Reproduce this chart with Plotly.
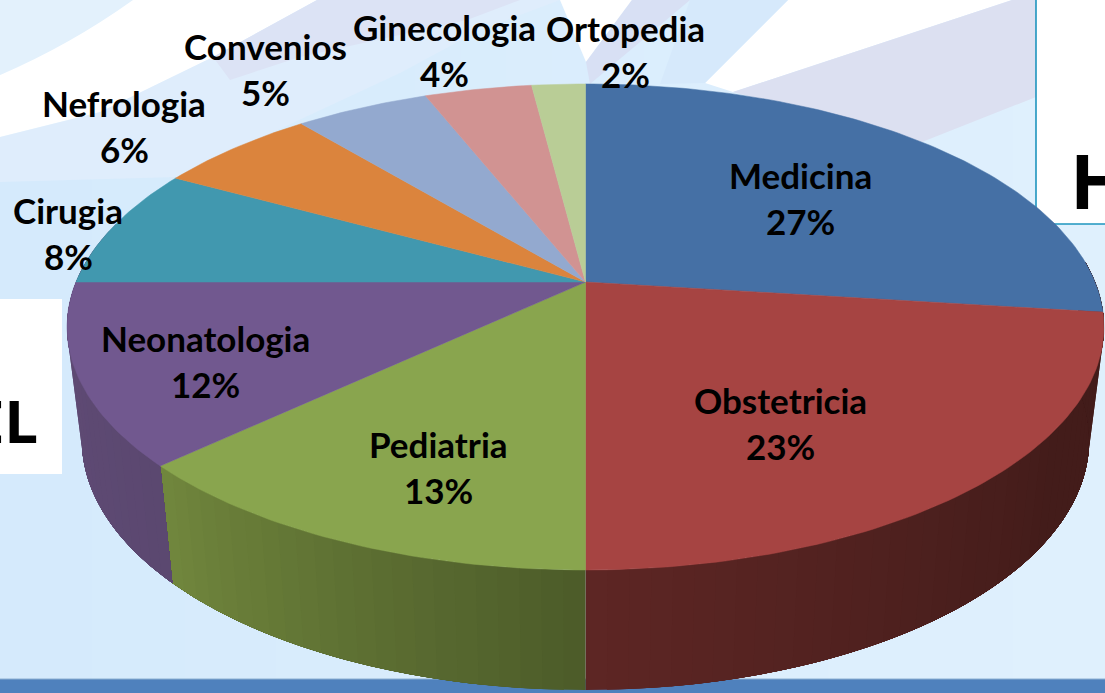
import math
import plotly.graph_objects as go

# ---- data ----
categories = ["Medicina", "Obstetricia", "Pediatria", "Neonatologia", "Cirugia",
              "Nefrologia", "Convenios", "Ginecologia", "Ortopedia"]
shares = [27, 23, 13, 12, 8, 6, 5, 4, 2]

# ---- styles and layout, kept apart from the data ----
top_colors = ["#4570A5", "#A64442", "#89A54E", "#71588F", "#4198AF",
              "#DB843D", "#93A9CF", "#D19392", "#B9CD96"]
label_x = [800, 780, 438, 205, 68, 124, 265, 444, 625]
label_y = [174.5, 399.5, 443.5, 337.5, 209.5, 102.5, 45.5, 26.5, 27.5]
pct_dy = 46
FONT = "Lato"
FS = 35

W, H = 1105, 693
CX = 585.5
K = 0.185
TOP = dict(y0=282, a=234.7, b=509.5)
BOT = dict(y0=393.7, a=241.5, b=495)


def project(deg, plane):
    t = math.radians(deg)
    x, y = math.sin(t), math.cos(t)
    d = 1 + K * y
    return CX + plane["b"] * x / d, plane["y0"] - plane["a"] * y / d


def lerp_stops(deg, stops):
    for (d0, c0), (d1, c1) in zip(stops, stops[1:]):
        if d0 <= deg <= d1:
            f = (deg - d0) / (d1 - d0)
            return "rgb(%d,%d,%d)" % tuple(round(a + (b - a) * f) for a, b in zip(c0, c1))
    return "rgb(%d,%d,%d)" % stops[-1][1]


ends = []
acc = 0
for s in shares:
    acc += s
    ends.append(acc * 3.6)

wall_stops = {
    1: [(85, (66, 28, 26)), (125, (67, 28, 26)), (180, (93, 38, 36))],
    2: [(180, (76, 91, 41)), (226.8, (113, 135, 61))],
    3: [(226.8, (91, 72, 112)), (285, (98, 76, 120))],
}
# painted outward from the front seam so each strip overlaps the previous one
wall_span = {1: (ends[1], 85), 2: (ends[1], ends[2]), 3: (285, ends[2])}

fig = go.Figure()

for idx, (a0, a1) in wall_span.items():
    n = max(8, int(abs(a1 - a0) / 2))
    for i in range(n):
        d0 = a0 + (a1 - a0) * i / n
        mid = a0 + (a1 - a0) * (i + 0.5) / n
        col = lerp_stops(mid, wall_stops[idx])
        m = 30
        upper = [project(d0 + (a1 - d0) * j / m, TOP) for j in range(m + 1)]
        lower = [project(a1 + (d0 - a1) * j / m, BOT) for j in range(m + 1)]
        p = upper + lower + [upper[0]]
        fig.add_trace(go.Scatter(x=[q[0] for q in p], y=[q[1] for q in p], mode="lines",
                                 fill="toself", fillcolor=col, line=dict(color=col, width=0),
                                 hoverinfo="skip", showlegend=False))

# top face
start = 0
for name, end, col in zip(categories, ends, top_colors):
    n = max(6, int((end - start) / 1))
    arc = [project(start + (end - start) * i / n, TOP) for i in range(n + 1)]
    xs = [CX] + [q[0] for q in arc] + [CX]
    ys = [TOP["y0"]] + [q[1] for q in arc] + [TOP["y0"]]
    fig.add_trace(go.Scatter(x=xs, y=ys, mode="lines", fill="toself", fillcolor=col,
                             line=dict(color=col, width=0.5), name=name,
                             hoverinfo="name", showlegend=False))
    start = end

# background drawing
shapes = []
strips = 24
for i in range(strips):
    f = i / (strips - 1)
    c = (round(213 + 10 * f), round(234 + 6 * f), round(252 + 1 * f))
    shapes.append(dict(type="rect", x0=W * i / strips, x1=W * (i + 1) / strips + 1, y0=0, y1=H,
                       fillcolor="rgb(%d,%d,%d)" % c, line_width=0, layer="below"))


def poly(path, color):
    shapes.append(dict(type="path", path=path, fillcolor=color, line_width=0, layer="below"))


poly("M0,0 L140,0 L70,45 L0,75 Z", "#E3F1FC")
poly("M0,182 L177,177 L400,73 L480,30 L560,0 L317,0 L213,57 L100,112 L0,137 Z", "#DFEDFC")
poly("M0,137 L100,112 L213,57 L317,0 L133,0 Q70,45 0,75 Z", "#FFFFFF")
poly("M213,57 L317,0 L520,0 L467,20 L300,57 L230,80 Z", "#DCE3F5")
# centre wedges
poly("M560,0 L632,0 L586,62 Z", "#FFFFFF")
poly("M632,0 L690,0 L590,84 L586,62 Z", "#D8E0F4")
poly("M788,0 L705,83 L733,92 L1012,0 Z", "#FFFFFF")
poly("M1012,0 L1036,0 L1036,97 L922,142 L733,92 Z", "#DCE0F1")
poly("M690,0 L788,0 L705,83 L660,84 Z", "#D6E9FB")
# white boxes
shapes.append(dict(type="rect", x0=1036, x1=1110, y0=-2, y1=224, fillcolor="#FFFFFF",
                   line=dict(color="#1E95BE", width=1.6), layer="below"))
shapes.append(dict(type="rect", x0=-2, x1=62, y0=299, y1=474, fillcolor="#FFFFFF",
                   line_width=0, layer="below"))
# bottom band
shapes.append(dict(type="rect", x0=0, x1=W, y0=679, y1=H + 2, fillcolor="#4F81BD",
                   line_width=0, layer="below"))
shapes.append(dict(type="line", x0=0, x1=W, y0=679, y1=679, line=dict(color="#8DB0D2", width=1),
                   layer="below"))

annotations = []
for name, s, lx, ly in zip(categories, shares, label_x, label_y):
    for txt, yy in ((name, ly), (f"{s}%", ly + pct_dy)):
        annotations.append(dict(x=lx, y=yy, text=f"<b>{txt}</b>", showarrow=False, xanchor="center",
                                yanchor="middle", font=dict(family=FONT, size=FS, color="#000000")))
annotations.append(dict(x=1068, y=180, text="<b>H</b>", showarrow=False, xanchor="left", yanchor="middle",
                        font=dict(family="Noto Sans", size=75, color="#000000")))
annotations.append(dict(x=40, y=420, text="<b>EL</b>", showarrow=False, xanchor="right", yanchor="middle",
                        font=dict(family="Noto Sans", size=60, color="#000000")))

fig.update_layout(width=W, height=H, margin=dict(l=0, r=0, t=0, b=0), autosize=False,
                  paper_bgcolor="#DCEDFD", plot_bgcolor="rgba(0,0,0,0)", showlegend=False,
                  xaxis=dict(range=[0, W], visible=False, fixedrange=True),
                  yaxis=dict(range=[H, 0], visible=False, fixedrange=True),
                  shapes=shapes, annotations=annotations)

fig.write_html("out.html", config=dict(displayModeBar=False),
               post_script="document.body.style.margin='0';document.body.style.overflow='hidden';")
